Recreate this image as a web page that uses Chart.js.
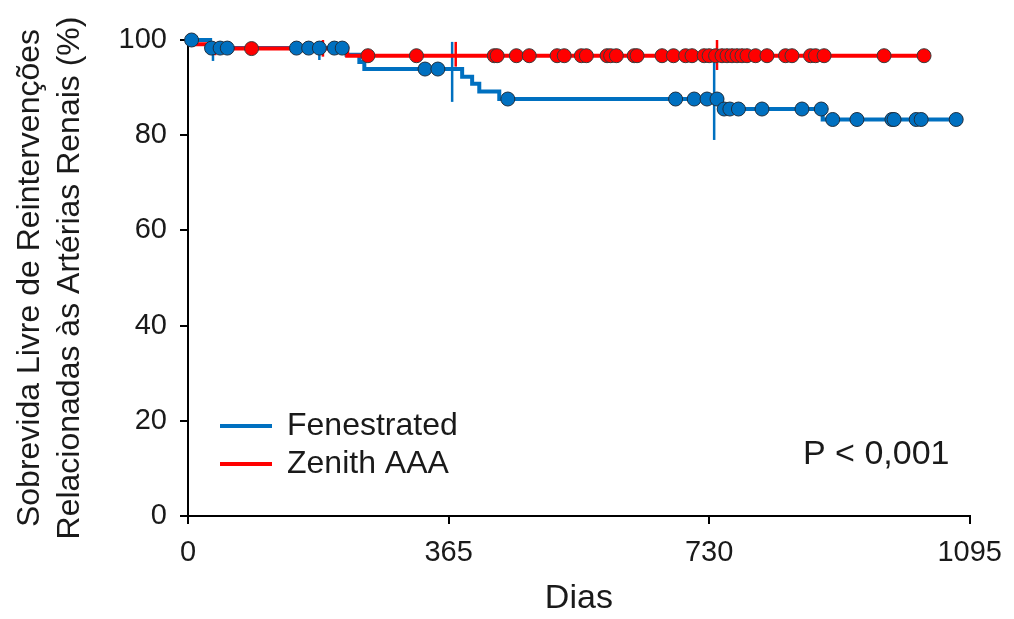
<!DOCTYPE html>
<html>
<head>
<meta charset="utf-8">
<script src="https://cdn.jsdelivr.net/npm/chart.js@4/dist/chart.umd.min.js"></script>
<style>
  html, body { margin: 0; padding: 0; background: #fff; }
  #wrap { width: 1014px; height: 619px; }
</style>
</head>
<body>
<div id="wrap"><canvas id="kmChart" width="1014" height="619"></canvas></div>
<script>
// Kaplan-Meier steps (day of event, survival % after it)
const blueStepDays = [0, 31, 222, 240, 247, 384, 398, 408, 436, 748, 889];
const blueStepSurv = [100, 98.3, 96.9, 95.4, 93.9, 92.3, 90.8, 89.2, 87.6, 85.5, 83.3];
const blueLastDay = 1076;
const redStepDays = [0, 10, 30, 223];
const redStepSurv = [100, 99.1, 98.2, 96.7];
const redLastDay = 1031;

// censored observations (days)
const blueCensorDays = [5, 33, 45, 55, 152, 169, 184, 205, 216, 332, 350, 448, 683, 709, 727, 741,
  751, 759, 771, 804, 860, 887, 903, 937, 986, 989, 1020, 1027, 1076];
const redCensorDays = [89, 252, 320, 429, 433, 460, 478, 517, 527, 551, 558, 587, 592, 600, 625, 629,
  664, 680, 697, 706, 723, 730, 739, 748, 755, 762, 769, 776, 783, 795, 811, 837, 846, 872, 879, 891, 975, 1031];

// confidence bars
const blueBarDays = [35, 184, 370, 737];
const blueBarLow = [95.6, 95.8, 87.0, 79.0];
const blueBarHigh = [99.4, 98.6, 99.6, 95.4];
const redBarDays = [38, 189, 375, 741];
const redBarLow = [96.8, 96.5, 94.4, 93.7];
const redBarHigh = [99.6, 100, 99.6, 100];

const xTicks = [0, 365, 730, 1095];
const seriesNames = ['Fenestrated', 'Zenith AAA'];
const blue = '#0070C0';
const red = '#FF0000';
const FONT = "'Liberation Sans', Arial, sans-serif";

function survAt(days, surv, d) {
  let v = surv[0];
  for (let i = 0; i < days.length; i++) {
    if (days[i] <= d) v = surv[i];
  }
  return v;
}

function stepPoints(days, surv, last) {
  const pts = days.map((d, i) => ({ x: d, y: surv[i] }));
  pts.push({ x: last, y: surv[surv.length - 1] });
  return pts;
}

function barSets(days, low, high, color) {
  return days.map((d, i) => ({
    type: 'line', data: [{ x: d, y: low[i] }, { x: d, y: high[i] }],
    borderColor: color, borderWidth: 2.5, pointRadius: 0, clip: false, order: 3
  }));
}

const datasets = [
  ...barSets(blueBarDays, blueBarLow, blueBarHigh, blue),
  ...barSets(redBarDays, redBarLow, redBarHigh, red),
  { type: 'line', label: seriesNames[0], data: stepPoints(blueStepDays, blueStepSurv, blueLastDay),
    stepped: true, borderColor: blue, borderWidth: 4, pointRadius: 0, clip: false, order: 2 },
  { type: 'line', label: seriesNames[1], data: stepPoints(redStepDays, redStepSurv, redLastDay),
    stepped: true, borderColor: red, borderWidth: 4, pointRadius: 0, clip: false, order: 1 },
  { type: 'scatter', data: redCensorDays.map(d => ({ x: d, y: survAt(redStepDays, redStepSurv, d) })),
    backgroundColor: red, borderColor: '#3a3a3a', borderWidth: 1, pointRadius: 7, clip: false, order: 0 },
  { type: 'scatter', data: blueCensorDays.map(d => ({ x: d, y: survAt(blueStepDays, blueStepSurv, d) })),
    backgroundColor: blue, borderColor: '#1f2f3f', borderWidth: 1, pointRadius: 7, clip: false, order: 0 }
];

// legend + p value drawn inside the plot
const overlay = {
  id: 'overlay',
  afterDraw(chart) {
    const ctx = chart.ctx;
    const colors = [blue, red];
    ctx.save();
    ctx.font = '32px ' + FONT;
    ctx.fillStyle = '#1a1a1a';
    ctx.textBaseline = 'middle';
    seriesNames.forEach((name, i) => {
      const y = 426 + i * 38;
      ctx.strokeStyle = colors[i];
      ctx.lineWidth = 4;
      ctx.beginPath();
      ctx.moveTo(220, y);
      ctx.lineTo(272, y);
      ctx.stroke();
      ctx.fillText(name, 287, y);
    });
    ctx.font = '34px ' + FONT;
    ctx.fillText('P < 0,001', 803, 455);
    ctx.restore();
  }
};

new Chart(document.getElementById('kmChart'), {
  data: { datasets },
  options: {
    responsive: false,
    animation: false,
    layout: { padding: { top: 40, right: 43, left: 0, bottom: 0 } },
    plugins: { legend: { display: false }, tooltip: { enabled: false } },
    scales: {
      x: {
        type: 'linear', min: 0, max: 1095,
        afterBuildTicks: s => { s.ticks = xTicks.map(v => ({ value: v })); },
        afterFit: s => { s.height = 103; },
        border: { color: '#000', width: 2 },
        grid: { drawOnChartArea: false, color: '#000', lineWidth: 2, tickLength: 8 },
        ticks: { color: '#1a1a1a', font: { family: FONT, size: 29 }, padding: 12, maxRotation: 0,
          callback: v => String(v) },
        title: { display: true, text: 'Dias', color: '#1a1a1a', font: { family: FONT, size: 34 }, padding: { top: 0, bottom: 0 } }
      },
      y: {
        min: 0, max: 100,
        afterFit: s => { s.width = 188; },
        border: { color: '#000', width: 2 },
        grid: { drawOnChartArea: false, color: '#000', lineWidth: 2, tickLength: 8 },
        ticks: { stepSize: 20, color: '#1a1a1a', font: { family: FONT, size: 29 }, padding: 13 },
        title: {
          display: true,
          text: ['Sobrevida Livre de Reintervenções', 'Relacionadas às Artérias Renais (%)'],
          color: '#1a1a1a', font: { family: FONT, size: 32, lineHeight: 1.25 }, padding: { top: 10, bottom: 0 }
        }
      }
    }
  },
  plugins: [overlay]
});
</script>
</body>
</html>
